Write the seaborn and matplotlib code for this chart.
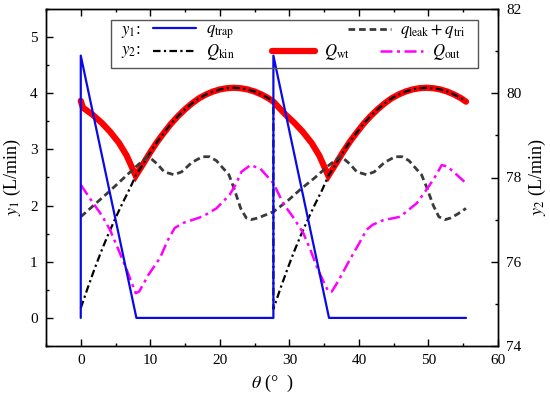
import matplotlib
matplotlib.use("Agg")
import numpy as np
import pandas as pd
import seaborn as sns
import matplotlib.pyplot as plt
from matplotlib.patches import Rectangle
from matplotlib.ticker import MultipleLocator

# ---------------- data ----------------
theta_trap = [0, 0, 8.0, 27.7, 27.7, 35.7, 55.4]
q_trap = [0, 4.67, 0, 0, 4.67, 0, 0]

theta_leak = [0, 2, 4, 6, 8, 9.7, 11, 12, 13.4, 14.5, 16, 17.5, 18.5, 19.5, 20.5, 21.3,
              22, 23, 23.8, 24.5, 25.5, 26.5, 27.7,
              29.7, 31.7, 33.7, 35.7, 37.4, 38.7, 39.7, 41.1, 42.2, 43.7, 45.2, 46.2, 47.2,
              48.2, 49.0, 49.7, 50.7, 51.5, 52.4, 53.2, 54.2, 55.4]
q_leak_tri = [1.80, 2.02, 2.24, 2.47, 2.70, 2.88, 2.74, 2.60, 2.55, 2.60, 2.77, 2.87, 2.87,
              2.80, 2.66, 2.55, 2.32, 1.95, 1.78, 1.75, 1.78, 1.83, 1.89,
              2.08, 2.30, 2.50, 2.72, 2.88, 2.74, 2.60, 2.55, 2.60, 2.77, 2.87, 2.87, 2.80,
              2.66, 2.55, 2.34, 2.00, 1.80, 1.75, 1.78, 1.85, 1.95]

theta_out = [0, 1.8, 3.0, 4.2, 5.4, 6.6, 7.9, 8.4, 9.8, 11.4, 12.5, 13.5, 14.7, 16.2, 17.6,
             19.5, 21.4, 22.3, 23.1, 24.4, 25.8, 27.7,
             29.1, 30.5, 32.0, 33.0, 34.1, 35.6, 36.1, 37.0, 38.7, 40.0, 41.1, 42.0, 43.5,
             45.9, 48.3, 49.7, 50.8, 51.9, 52.7, 55.4]
Q_out = [2.37, 2.04, 1.83, 1.57, 1.22, 0.86, 0.44, 0.47, 0.78, 1.07, 1.38, 1.60, 1.69, 1.75,
         1.81, 1.95, 2.19, 2.38, 2.60, 2.72, 2.66, 2.40,
         2.04, 1.80, 1.51, 1.22, 0.86, 0.47, 0.47, 0.65, 1.04, 1.32, 1.57, 1.66, 1.74,
         1.80, 2.04, 2.28, 2.48, 2.72, 2.70, 2.40]

theta_wt = [0, 0.3, 1.7, 3.0, 4.2, 5.5, 6.6, 7.9, 9, 10, 11, 12, 13, 14, 15, 16, 17, 18, 19,
            20, 21, 22, 23, 24, 25, 26, 27, 27.7,
            29.4, 30.7, 31.9, 33.2, 34.3, 35.6, 36.7, 37.7, 38.7, 39.7, 40.7, 41.7, 42.7,
            43.7, 44.7, 45.7, 46.7, 47.7, 48.7, 49.7, 50.7, 51.7, 52.7, 53.7, 54.7, 55.4]
Q_wt = [79.82, 79.66, 79.49, 79.30, 79.09, 78.82, 78.52, 78.04, 78.33, 78.60, 78.85, 79.07,
        79.28, 79.46, 79.62, 79.76, 79.88, 79.97, 80.04, 80.09, 80.12, 80.13, 80.12, 80.09,
        80.04, 79.97, 79.88, 79.80,
        79.50, 79.30, 79.09, 78.82, 78.52, 78.04, 78.33, 78.60, 78.85, 79.07, 79.28, 79.46,
        79.62, 79.76, 79.88, 79.97, 80.04, 80.09, 80.12, 80.13, 80.12, 80.09, 80.04, 79.97,
        79.88, 79.80]

theta_kin = [0, 1, 2, 3, 4, 5, 6, 7, 7.9, 9, 10, 11, 12, 13, 14, 15, 16, 17, 18, 19, 20, 21,
             22, 23, 24, 25, 26, 27, 27.7,
             27.7, 28.7, 29.7, 30.7, 31.7, 32.7, 33.7, 34.7, 35.6, 36.7, 37.7, 38.7, 39.7,
             40.7, 41.7, 42.7, 43.7, 44.7, 45.7, 46.7, 47.7, 48.7, 49.7, 50.7, 51.7, 52.7,
             53.7, 54.7, 55.4]
Q_kin = [74.90, 75.38, 75.84, 76.27, 76.67, 77.04, 77.39, 77.72, 78.04, 78.33, 78.60, 78.85,
         79.07, 79.28, 79.46, 79.62, 79.76, 79.88, 79.97, 80.04, 80.09, 80.12, 80.13, 80.12,
         80.09, 80.04, 79.97, 79.88, 79.80,
         74.88, 75.36, 75.82, 76.25, 76.65, 77.02, 77.37, 77.70, 78.04, 78.33, 78.60, 78.85,
         79.07, 79.28, 79.46, 79.62, 79.76, 79.88, 79.97, 80.04, 80.09, 80.12, 80.13, 80.12,
         80.09, 80.04, 79.97, 79.88, 79.80]

# ---------------- style ----------------
sns.set_style("ticks")
plt.rcParams['font.family'] = ['Liberation Serif', 'DejaVu Serif']
plt.rcParams['mathtext.fontset'] = 'stix'
plt.rcParams['axes.edgecolor'] = 'black'
plt.rcParams['xtick.color'] = 'black'
plt.rcParams['ytick.color'] = 'black'
plt.rcParams['axes.labelcolor'] = 'black'
plt.rcParams['text.color'] = 'black'

fig = plt.figure(figsize=(5.5, 3.99), dpi=100)
ax = fig.add_axes([46 / 550, 1 - 346 / 399, 452 / 550, 337 / 399])
ax2 = ax.twinx()
ax.set_zorder(ax2.get_zorder() + 1)
ax.patch.set_visible(False)

common = dict(sort=False, estimator=None, legend=False)

# right axis (y2)
sns.lineplot(x=theta_wt, y=Q_wt, ax=ax2, color='#ff0000', linewidth=4.5,
             solid_capstyle='round', solid_joinstyle='miter', **common)
h_wt = ax2.lines[-1]
sns.lineplot(x=theta_kin, y=Q_kin, ax=ax2, color='black', linewidth=1.6,
             linestyle=(0, (3.4, 1.5, 1.0, 1.5)), **common)
h_kin = ax2.lines[-1]

# left axis (y1)
sns.lineplot(x=theta_leak, y=q_leak_tri, ax=ax, color='#3a3a3a', linewidth=2.0,
             linestyle=(0, (2.4, 1.4)), **common)
h_leak = ax.lines[-1]
sns.lineplot(x=theta_out, y=Q_out, ax=ax, color='#ff00ff', linewidth=1.8,
             linestyle=(0, (4.8, 1.8, 1.2, 1.8)), **common)
h_out = ax.lines[-1]
sns.lineplot(x=theta_trap, y=q_trap, ax=ax, color='#0a0ae6', linewidth=1.6, **common)
h_trap = ax.lines[-1]

# axes limits / ticks
ax.set_xlim(-5, 60)
ax.set_ylim(-0.5, 5.5)
ax2.set_ylim(74, 82)
ax.xaxis.set_major_locator(MultipleLocator(10))
ax.xaxis.set_minor_locator(MultipleLocator(5))
ax.yaxis.set_major_locator(MultipleLocator(1))
ax.yaxis.set_minor_locator(MultipleLocator(0.5))
ax2.yaxis.set_major_locator(MultipleLocator(2))
ax2.yaxis.set_minor_locator(MultipleLocator(1))

ax.tick_params(axis='x', which='both', direction='in', top=True, bottom=True, labelsize=11,
               pad=6)
ax.tick_params(axis='y', which='both', direction='in', left=True, right=False, labelsize=11,
               pad=6)
ax2.tick_params(axis='y', which='both', direction='in', right=True, labelsize=11, pad=6)
for a in (ax, ax2):
    a.tick_params(which='major', length=5, width=1)
    a.tick_params(which='minor', length=2.5, width=1)
    for s in a.spines.values():
        s.set_linewidth(1.0)
        s.set_color('black')

ax.set_xlabel(r"$\theta$ (°  )", fontsize=13, labelpad=4)
ax.set_ylabel(r"$y_1$ (L/min)", fontsize=13, labelpad=5)
ax2.set_ylabel(r"$y_2$ (L/min)", fontsize=13, labelpad=4)

# ---------------- legend (frame + individual entries) ----------------
def ax_x(px):
    return (px - 46) / 452


def ax_y(py):
    return 1 - (py - 9) / 337


frame = Rectangle((ax_x(111), ax_y(68)), ax_x(478) - ax_x(111), ax_y(20) - ax_y(68),
                  transform=ax.transAxes, fill=False, edgecolor='#555555', linewidth=1.0,
                  zorder=10)
ax.add_patch(frame)

row1, row2 = ax_y(31.5), ax_y(52.5)
entries = [
    (h_trap, r"$q_{\mathrm{trap}}$", 153, row1),
    (h_leak, r"$q_{\mathrm{leak}}+q_{\mathrm{tri}}$", 348, row1),
    (h_kin, r"$Q_{\mathrm{kin}}$", 153, row2),
    (h_wt, r"$Q_{\mathrm{wt}}$", 271.5, row2),
    (h_out, r"$Q_{\mathrm{out}}$", 380, row2),
]
for h, lab, px, ry in entries:
    leg = ax.legend([h], [lab], loc='center left', bbox_to_anchor=(ax_x(px), ry),
                    bbox_transform=ax.transAxes, frameon=False, borderpad=0,
                    borderaxespad=0, handlelength=2.6, handletextpad=0.55, fontsize=12)
    ax.add_artist(leg)
ax.legend_ = None

ax.text(ax_x(121), row1, r"$y_1$:", transform=ax.transAxes, ha='left', va='center',
        fontsize=12)
ax.text(ax_x(121), row2, r"$y_2$:", transform=ax.transAxes, ha='left', va='center',
        fontsize=12)

fig.savefig("out.png", dpi=100)
